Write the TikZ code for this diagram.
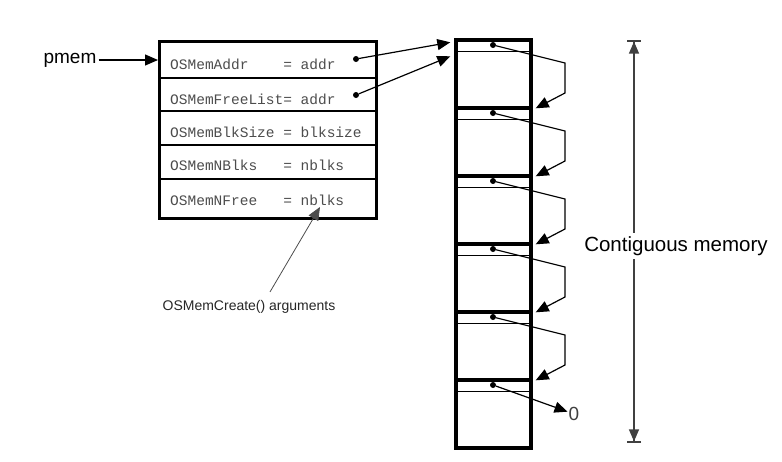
\documentclass[tikz,border=0pt]{standalone}
\usepackage{fontspec}
\setmainfont{Liberation Sans}
\setmonofont{Liberation Mono}
\usetikzlibrary{arrows.meta}
\begin{document}
\begin{tikzpicture}[x=1pt,y=-1pt,
field/.style={anchor=base west,inner sep=0pt,font=\ttfamily\fontsize{14.5}{16}\selectfont,text=black!70},
block/.style={draw,line width=3.4pt,minimum width=75pt,minimum height=68pt,inner sep=0pt},
dot/.style={circle,fill,inner sep=0pt,minimum size=6pt},
link/.style={-{Triangle[length=13pt,width=11pt]},line width=1.2pt},
span/.style={-{Triangle[length=12pt,width=10pt]Bar[width=14pt,line width=1.6pt]},black!75,line width=1.3pt}]
\useasboundingbox (0,0) rectangle (782,461);
\node[draw,line width=3.4pt,minimum width=217pt,minimum height=177pt,anchor=north west,inner sep=0pt] (os) at (158,40) {};
\foreach \y in {78,111,145,179} \draw[line width=1.7pt] (158,\y) -- (375,\y);
\node[field] (addr) at (170,69) {\makebox[7.8em][l]{OSMemAddr}= addr};
\node[field] (free) at (170,104) {\makebox[7.8em][l]{OSMemFreeList}= addr};
\node[field] (size) at (170,137) {\makebox[7.8em][l]{OSMemBlkSize}= blksize};
\node[field] (nblk) at (170,170) {\makebox[7.8em][l]{OSMemNBlks}= nblks};
\node[field] (nfree) at (170,205) {\makebox[7.8em][l]{OSMemNFree}= nblks};
\node[dot] (d1) at (356,59) {};
\node[dot] (d2) at (356,95) {};
\foreach \i in {0,...,5} {
  \node[block] (b\i) at (493.5,74+68*\i) {};
  \draw[line width=1.4pt] ([yshift=-13pt]b\i.north west) -- ([yshift=-13pt]b\i.north east);
  \node[dot] (p\i) at (493,45+68*\i) {};
}
\foreach \i [evaluate=\i as \j using int(\i+1)] in {0,...,4}
  \draw[link] (p\i) -- ++(72,18) -- ++(0,30) -- ([xshift=3pt,yshift=-2pt]b\j.north east);
\node[inner sep=1pt,text=black!75,font=\fontsize{19}{22}\selectfont] (zero) at (574,414) {0};
\draw[link] (p5) -- (zero);
\draw[link] (d1) -- ([xshift=-4pt,yshift=-4pt]b0.north west);
\draw[link] (d2) -- ([xshift=-4pt,yshift=-18pt]b0.north west);
\node[inner sep=2pt,font=\fontsize{19}{22}\selectfont] (pmem) at (70,60) {pmem};
\draw[link] (pmem.east) -- (pmem.east -| os.west);
\node[text=black!85,font=\fontsize{14}{16}\selectfont] (args) at (249,307) {OSMemCreate() arguments};
\coordinate (argtip) at (320,207);
\draw[link,line width=0.8pt,black!70] ([xshift=21pt,yshift=5pt]args.north) -- (argtip);
\node[font=\fontsize{20.5}{24}\selectfont] (contig) at (676,246) {Contiguous memory};
\coordinate (mtop) at (634,40);
\coordinate (mbot) at (634,443);
\draw[span] (contig.north -| mtop) -- (mtop);
\draw[span] (contig.south -| mtop) -- (mbot);
\end{tikzpicture}
\end{document}
